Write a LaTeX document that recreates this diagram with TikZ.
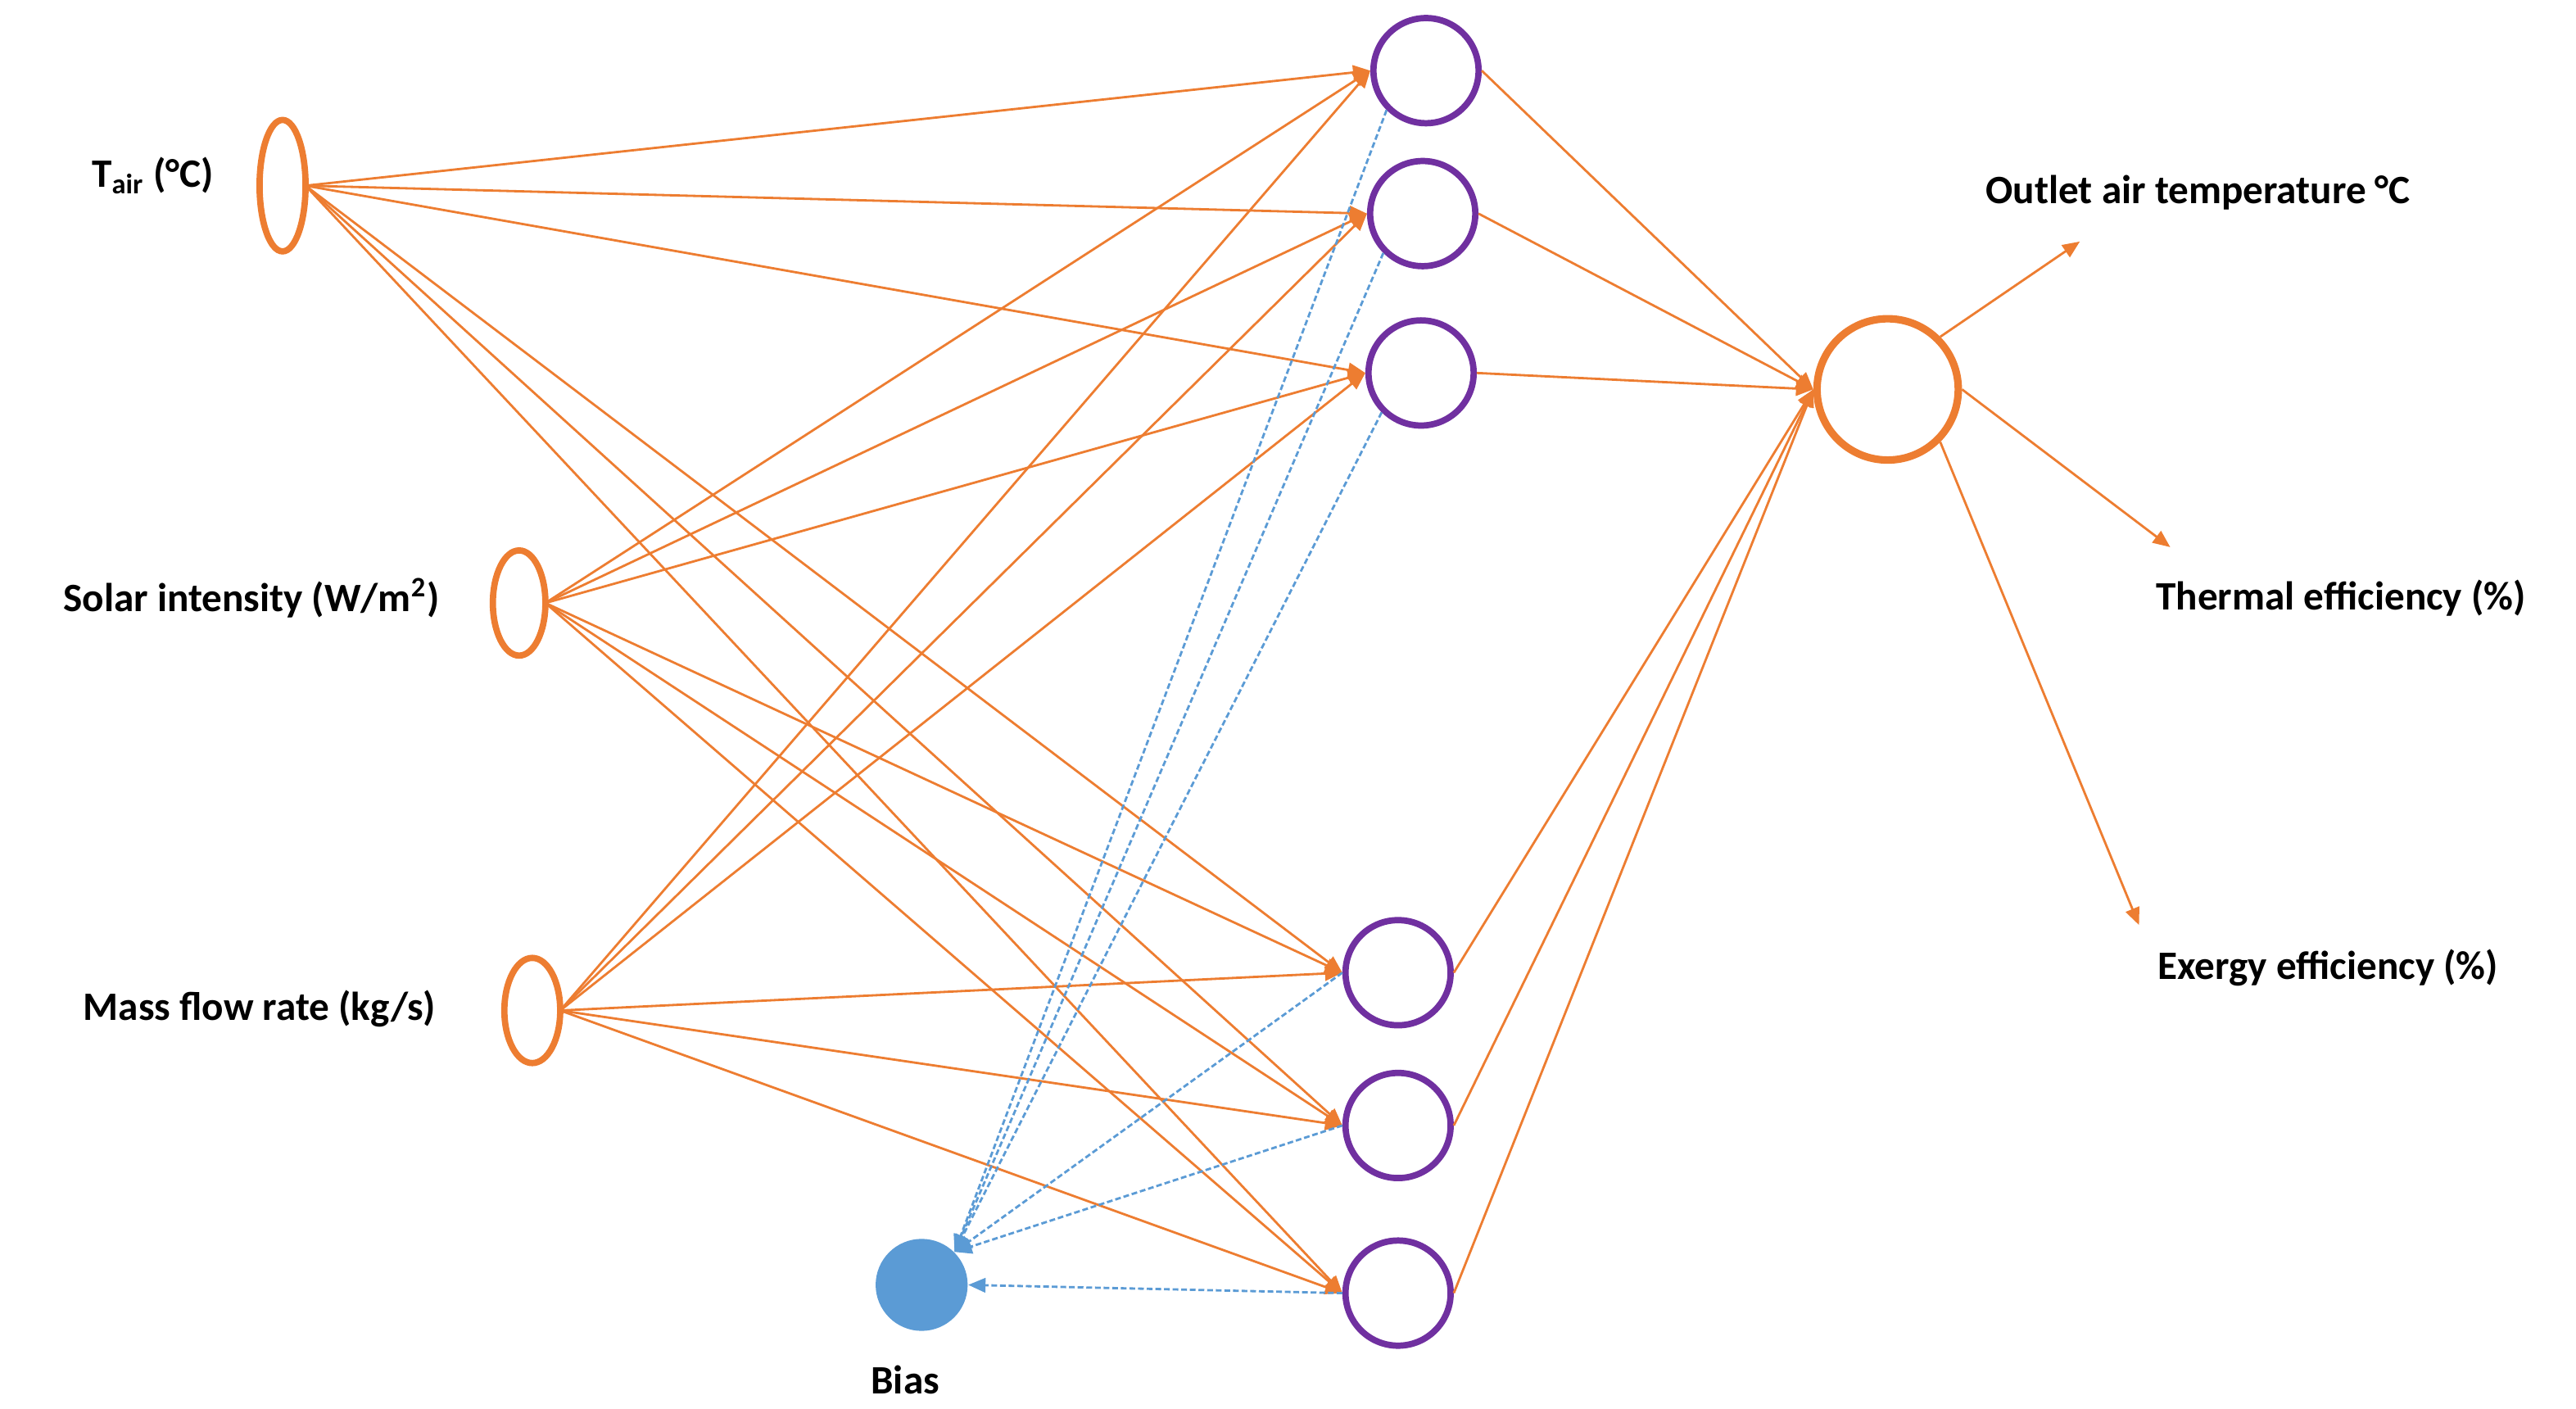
\documentclass[tikz,border=0pt]{standalone}
\usepackage{fontspec}
\setmainfont{Carlito}
\usetikzlibrary{arrows.meta}
\definecolor{org}{HTML}{ED7D31}
\definecolor{pur}{HTML}{7030A0}
\definecolor{blu}{HTML}{5B9BD5}
\begin{document}
\begin{tikzpicture}[x=0.02006cm,y=-0.02006cm,
  inp/.style={draw=org,line width=2.2pt,ellipse},
  hid/.style={draw=pur,circle,line width=2.2pt,minimum size={64*0.02006cm},inner sep=0pt},
  con/.style={draw=org,line width=0.8pt,-{Triangle[length=6pt,width=5pt]}},
  plain/.style={draw=org,line width=0.8pt},
  bia/.style={draw=blu,line width=0.8pt,dashed,dash pattern=on 2pt off 1pt,-{Triangle[length=6pt,width=5pt]}},
  lab/.style={font=\fontsize{14}{16}\selectfont\bfseries}]
\useasboundingbox (0,0) rectangle (1568,857.5);
\draw[draw=org,line width=2.2pt] (172,113) ellipse [x radius=14,y radius=40];
\draw[draw=org,line width=2.2pt] (316,367) ellipse [x radius=16,y radius=32];
\draw[draw=org,line width=2.2pt] (324,615) ellipse [x radius=17,y radius=32];
\coordinate (i1) at (186,113);
\coordinate (i2) at (332,367);
\coordinate (i3) at (341,615);
\node[lab] (l1) at (93,107) {T\textsubscript{air} (°C)};
\node[lab] (l2) at (153,364) {Solar intensity (W/m\textsuperscript{2})};
\node[lab] (l3) at (158,614) {Mass flow rate (kg/s)};
\node[hid] (h1) at (868,43) {};
\node[hid] (h2) at (866,130) {};
\node[hid] (h3) at (865,227) {};
\node[hid] (h4) at (851,592) {};
\node[hid] (h5) at (851,685) {};
\node[hid] (h6) at (851,787) {};
\node[draw=org,circle,line width=2.6pt,minimum size={86*0.02006cm},inner sep=0pt] (o) at (1149,237) {};
\node[circle,fill=blu,minimum size={56*0.02006cm},inner sep=0pt] (b) at (561,782) {};
\node[lab] (bl) at (551,840) {Bias};
\foreach \i in {i1,i2,i3}{
  \foreach \h in {h1,h2,h3,h4,h5,h6}{
    \draw[con] (\i) -- (\h.west);
  }
}
\foreach \h in {h1,h2,h3}{\draw[bia] (\h.south west) -- (b.north east);}
\foreach \h in {h4,h5}{\draw[bia] (\h.west) -- (b.north east);}
\draw[bia] (h6.west) -- (b.east);
\foreach \h in {h1,h2,h3,h4,h5,h6}{\draw[con] (\h.east) -- (o.west);}
\coordinate (a1) at (1266,147);
\coordinate (a2) at (1321,333);
\coordinate (a3) at (1302,563);
\draw[con] (o.north east) -- (a1);
\draw[con] (o.east) -- (a2);
\draw[con] (o.south east) -- (a3);
\node[lab] (t1) at (1338,117) {Outlet air temperature °C};
\node[lab] (t2) at (1425,364) {Thermal efficiency (\%)};
\node[lab] (t3) at (1417,589) {Exergy efficiency (\%)};
\end{tikzpicture}
\end{document}
